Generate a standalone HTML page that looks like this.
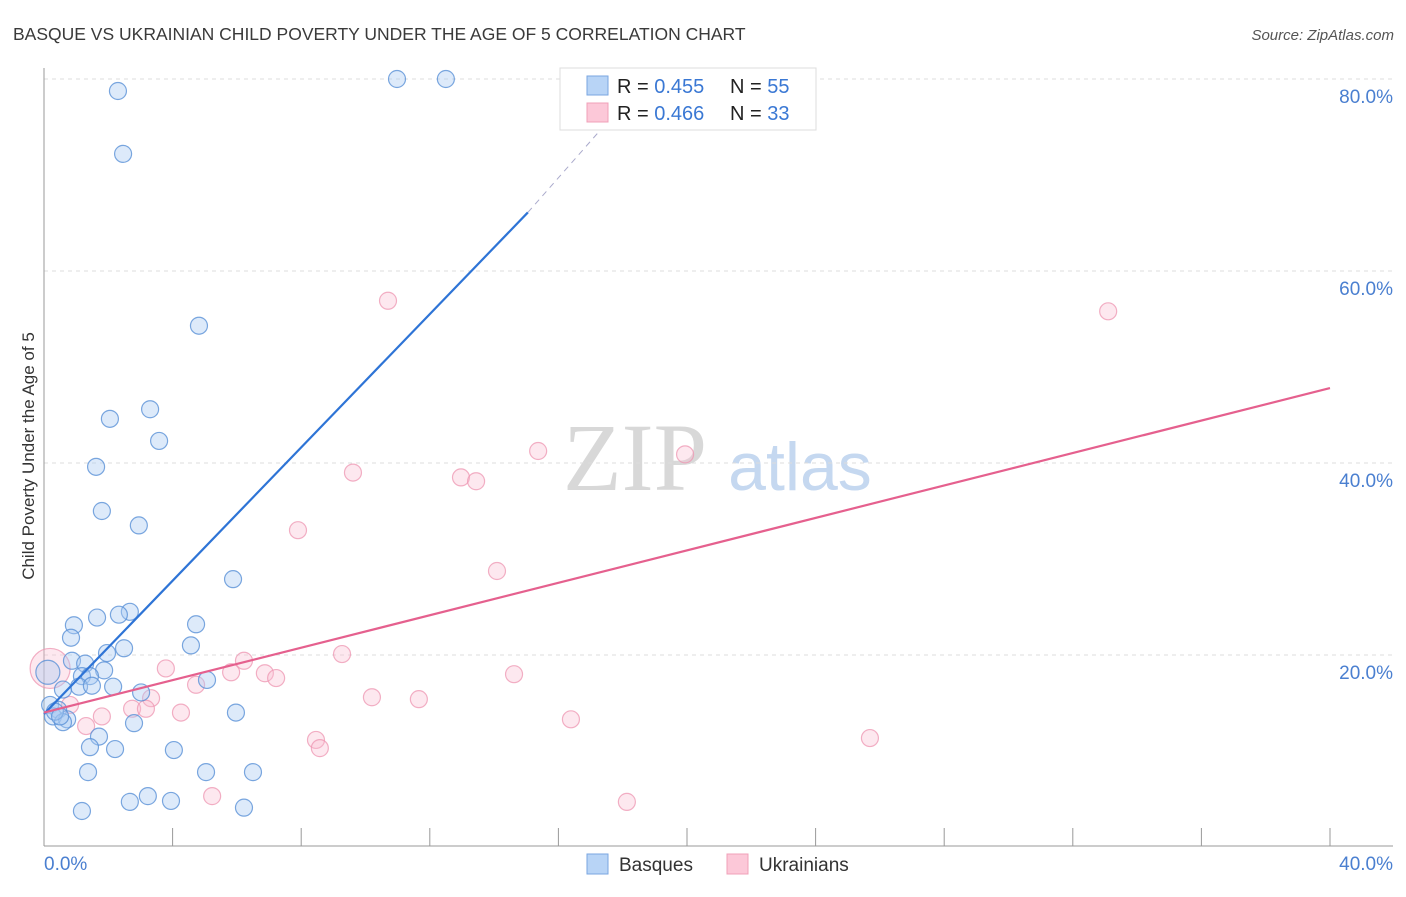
<!DOCTYPE html>
<html><head><meta charset="utf-8"><style>
body{margin:0;background:#fff;font-family:"Liberation Sans",sans-serif}
svg text{font-family:"Liberation Sans",sans-serif}
</style></head><body>
<svg id="chart" width="1406" height="892" xmlns="http://www.w3.org/2000/svg">
<text x="13" y="40" font-size="17.5" fill="#3a3a3a">BASQUE VS UKRAINIAN CHILD POVERTY UNDER THE AGE OF 5 CORRELATION CHART</text>
<text x="1394" y="40" font-size="15" fill="#555" font-style="italic" text-anchor="end">Source: ZipAtlas.com</text>
<text transform="translate(34,456) rotate(-90)" font-size="17" fill="#333" text-anchor="middle">Child Poverty Under the Age of 5</text>
<g>
<text x="635" y="490" font-size="96" fill="#d8d8d8" text-anchor="middle" style="font-family:'Liberation Serif',serif">ZIP</text>
<text x="800" y="490" font-size="68" fill="#c5d8f0" text-anchor="middle">atlas</text>
</g>
<g id="grid"></g><g id="axes"></g><g id="marks"></g>
<g>
<rect x="560" y="68" width="256" height="62" fill="#fff" stroke="#ddd"/>
<rect x="587" y="76" width="21" height="19" fill="#b8d4f6" stroke="#7aa6e0"/>
<rect x="587" y="103" width="21" height="19" fill="#fcc8d8" stroke="#f0a0b8"/>
<text x="617" y="93" font-size="20" fill="#222">R = <tspan fill="#3a78d4">0.455</tspan></text>
<text x="730" y="93" font-size="20" fill="#222">N = <tspan fill="#3a78d4">55</tspan></text>
<text x="617" y="120" font-size="20" fill="#222">R = <tspan fill="#3a78d4">0.466</tspan></text>
<text x="730" y="120" font-size="20" fill="#222">N = <tspan fill="#3a78d4">33</tspan></text>
</g>
<g>
<rect x="587" y="854" width="21" height="20" fill="#b8d4f6" stroke="#7aa6e0"/>
<text x="619" y="871" font-size="19" fill="#333">Basques</text>
<rect x="727" y="854" width="21" height="20" fill="#fcc8d8" stroke="#f0a0b8"/>
<text x="759" y="871" font-size="19" fill="#333">Ukrainians</text>
</g>
</svg>
<script>
const basqueX=[2.30,2.46,10.98,12.50,4.82,3.30,2.05,3.58,1.62,1.80,2.95,5.88,2.67,2.33,1.65,0.93,4.73,0.84,4.57,2.49,1.96,0.87,1.28,1.87,1.18,1.43,1.09,1.49,2.15,0.59,3.02,5.07,0.19,0.44,0.28,0.72,0.59,2.80,5.97,1.71,1.43,2.21,4.04,1.37,5.04,6.50,3.23,2.67,3.95,1.18,6.22,0.34,0.50,0.12];
const basqueY=[78.75,72.2,80,80,54.3,45.6,44.6,42.3,39.6,35.0,33.5,27.9,24.5,24.2,23.9,23.1,23.2,21.8,21.0,20.7,20.2,19.4,19.1,18.4,17.8,17.8,16.7,16.8,16.7,16.4,16.1,17.4,14.8,14.3,13.6,13.3,13.0,12.9,14.0,11.5,10.4,10.2,10.1,7.8,7.8,7.8,5.3,4.7,4.8,3.75,4.1,14.1,13.6,18.2];
const ukrX=[10.70,33.1,15.37,19.94,9.61,12.97,13.44,7.90,14.09,9.27,6.22,3.79,5.82,6.87,7.22,14.62,4.73,10.20,11.66,3.33,2.74,3.17,4.26,1.80,0.81,1.31,16.39,25.69,8.46,8.58,5.23,18.13,0.19];
const ukrY=[56.9,55.8,41.25,40.9,39.0,38.5,38.1,33.0,28.75,20.1,19.4,18.6,18.2,18.1,17.6,18.0,16.9,15.6,15.4,15.5,14.4,14.4,14.0,13.6,14.8,12.6,13.3,11.35,11.15,10.3,5.3,4.7,18.6];
const yTicks=[20,40,60,80];
const yTickLabels=["20.0%","40.0%","60.0%","80.0%"];
const xTicks=[0,4,8,12,16,20,24,28,32,36,40];
const basqueLine=[0,13.85,15.05,66.1,17.6,75.8];
const ukrLine=[0,14.0,40,47.8];
const NS="http://www.w3.org/2000/svg";
const sx=v=>44+v*32.15, sy=v=>847-v*9.6;
function mk(p,t,a){const e=document.createElementNS(NS,t);for(const k in a)e.setAttribute(k,a[k]);p.appendChild(e);return e;}
const grid=document.getElementById('grid'),axes=document.getElementById('axes'),marks=document.getElementById('marks');
yTicks.forEach((v,i)=>{
 const l=mk(grid,'line',{x1:44,x2:1393,y1:sy(v),y2:sy(v),stroke:'#ddd','stroke-dasharray':'4,4'});
 
 
 const t=mk(grid,'text',{x:1393,y:sy(v)+24,'font-size':19,fill:'#4a7fd0','text-anchor':'end'});t.textContent=yTickLabels[i];
 
 
});
mk(axes,'line',{x1:44,x2:44,y1:68,y2:846,stroke:'#999'});
mk(axes,'line',{x1:44,x2:1393,y1:846,y2:846,stroke:'#999'});
xTicks.forEach(v=>{const l=mk(axes,'line',{x1:sx(v),x2:sx(v),y1:828,y2:846,stroke:'#999'});
 
 });
let t0=mk(axes,'text',{x:44,y:870,'font-size':19,fill:'#4a7fd0'});t0.textContent='0.0%';


let t1=mk(axes,'text',{x:1393,y:870,'font-size':19,fill:'#4a7fd0','text-anchor':'end'});t1.textContent='40.0%';


function dot(x,y,r,fill,stroke,name){const c=mk(marks,'circle',{cx:sx(x),cy:sy(y),r:r,fill:fill,stroke:stroke,'stroke-width':1.2});
 
 }
ukrX.forEach((x,i)=>dot(x,ukrY[i],i===ukrX.length-1?20:8.5,'rgba(250,190,208,0.35)','rgba(238,150,178,0.75)','ukrainian-point'));
basqueX.forEach((x,i)=>dot(x,basqueY[i],i===basqueX.length-1?12:8.5,'rgba(170,202,242,0.4)','rgba(90,145,215,0.8)','basque-point'));
let bl=mk(marks,'line',{x1:sx(basqueLine[0]),y1:sy(basqueLine[1]),x2:sx(basqueLine[2]),y2:sy(basqueLine[3]),stroke:'#2e74d6','stroke-width':2.2});


let bd=mk(marks,'line',{x1:sx(basqueLine[2]),y1:sy(basqueLine[3]),x2:sx(basqueLine[4]),y2:sy(basqueLine[5]),stroke:'#aac','stroke-width':1,'stroke-dasharray':'6,5'});


let ul=mk(marks,'line',{x1:sx(ukrLine[0]),y1:sy(ukrLine[1]),x2:sx(ukrLine[2]),y2:sy(ukrLine[3]),stroke:'#e5608e','stroke-width':2.2});


</script>
</body></html>
